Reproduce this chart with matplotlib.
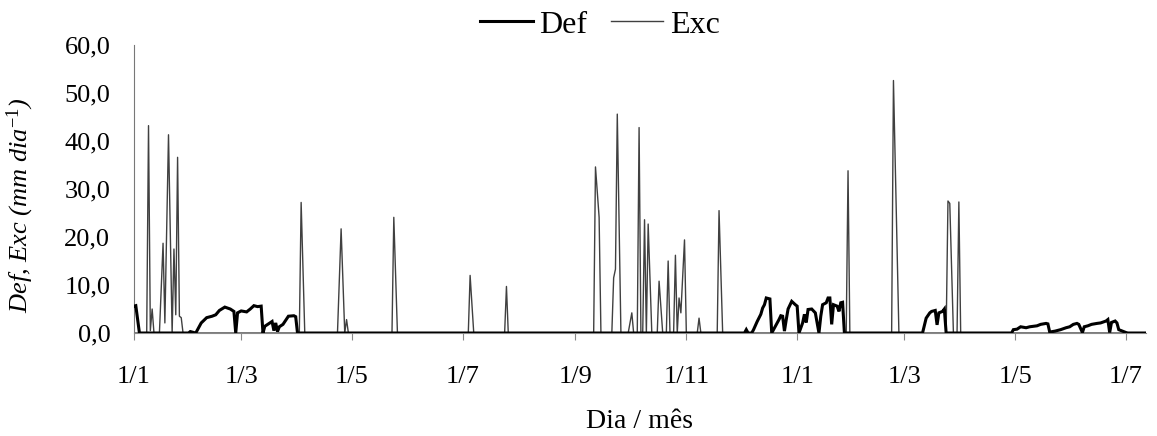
import numpy as np
import matplotlib
matplotlib.use('Agg')
import matplotlib.pyplot as plt

plt.rcParams['font.family'] = ['Liberation Serif', 'DejaVu Serif']
plt.rcParams['mathtext.fontset'] = 'custom'
plt.rcParams['mathtext.rm'] = 'Liberation Serif'
plt.rcParams['mathtext.it'] = 'Liberation Serif:italic'
plt.rcParams['mathtext.default'] = 'it'

start = np.datetime64('2010-01-01')

# deficit (Def), day counted from 1/1, mm/dia
def_days = [0, 1, 3,
            30, 31, 32, 34, 37, 40, 43, 45, 47, 50, 53, 55, 56, 57, 59, 62, 64, 66, 68, 70, 71,
            72, 76, 77, 78, 79, 80, 82, 85, 88, 89, 90,
            336, 337, 338, 340, 341, 343, 345, 346, 347, 348, 350, 351, 353, 355, 356, 357, 358,
            359, 360, 362, 364, 365, 366, 368, 369, 370, 371, 373, 375, 377, 378, 379, 381, 382,
            383, 384, 385, 387, 388, 389, 390, 391,
            434, 436, 438, 439, 441, 442, 443, 445, 446, 447,
            483, 484, 486, 488, 491, 493, 497, 499, 502, 503, 504, 507, 510, 513, 515, 517, 519,
            520, 522, 523, 525, 527, 530, 532, 535, 536, 537, 538, 540, 541, 542, 544, 546, 547, 557]
def_vals = [5.6, 5.7, 0,
            0, 0.3, 0.2, 0, 2.1, 3.2, 3.5, 3.8, 4.7, 5.4, 5.0, 4.5, 0, 4.2, 4.6, 4.4, 5.0, 5.7, 5.5, 5.6, 0,
            1.4, 2.4, 0.5, 2.1, 0.3, 1.3, 1.8, 3.5, 3.6, 3.4, 0,
            0, 0.7, 0, 0, 0.7, 2.4, 3.9, 5.2, 5.9, 7.3, 7.1, 0, 1.4, 2.8, 3.6, 3.5, 0.4,
            2.8, 5.0, 6.6, 5.9, 5.6, 0, 2.1, 3.9, 2.2, 4.9, 5.0, 4.2, 0, 3.5, 5.9, 6.3, 7.3,
            7.3, 1.8, 5.9, 5.6, 4.5, 6.3, 6.4, 0,
            0, 3.1, 4.2, 4.5, 4.7, 1.7, 4.2, 4.5, 5.0, 0,
            0, 0.7, 0.8, 1.3, 1.1, 1.3, 1.5, 1.8, 2.0, 1.9, 0.2, 0.4, 0.7, 1.1, 1.3, 1.8, 2.0,
            1.8, 0.1, 1.3, 1.5, 1.8, 2.0, 2.1, 2.5, 2.8, 0.1, 2.2, 2.5, 2.1, 0.7, 0.4, 0.1, 0, 0]

# excedente (Exc)
exc_days = [0, 7, 8, 9, 10, 11, 14, 16, 17, 19, 21, 22, 23, 24, 25, 26, 27,
            91, 92, 94, 112, 114, 116, 117, 118, 142, 143, 145, 184, 185, 187, 204, 205, 206,
            253, 254, 256, 257, 263, 264, 265, 266, 268, 272, 274, 275, 277, 278, 279, 280, 281,
            282, 283, 285, 288, 289, 291, 293, 294, 295, 297, 298, 299, 300, 301, 303, 304,
            310, 311, 312, 321, 322, 324, 392, 393, 394, 417, 418, 421,
            447, 448, 449, 451, 453, 454, 455, 557]
exc_vals = [0, 0, 43.2, 0.5, 5.0, 0, 0, 18.7, 2.1, 41.3, 0, 17.5, 3.8, 36.6, 3.5, 3.2, 0,
            0, 27.2, 0, 0, 21.7, 0, 2.8, 0, 0, 24.1, 0, 0, 12.0, 0, 0, 9.7, 0,
            0, 34.6, 24.1, 0, 0, 11.5, 13.3, 45.6, 0, 0, 4.2, 0, 0, 42.8, 0, 0, 23.6,
            0, 22.7, 0, 0, 10.8, 0, 0, 15.0, 0, 0, 16.2, 0, 7.3, 4.2, 19.4, 0,
            0, 3.1, 0, 0, 25.5, 0, 0, 33.8, 0, 0, 52.6, 0,
            0, 27.5, 27.0, 0, 0, 27.3, 0, 0]

tick_dates = ['2010-01-01', '2010-03-01', '2010-05-01', '2010-07-01', '2010-09-01',
              '2010-11-01', '2011-01-01', '2011-03-01', '2011-05-01', '2011-07-01']
tick_labels = ['1/1', '1/3', '1/5', '1/7', '1/9', '1/11', '1/1', '1/3', '1/5', '1/7']
y_ticks = [0, 10, 20, 30, 40, 50, 60]

def_x = start + np.array(def_days).astype('timedelta64[D]')
exc_x = start + np.array(exc_days).astype('timedelta64[D]')

fig = plt.figure(figsize=(11.57, 4.36), dpi=100)
ax = fig.add_axes([0.1158, 0.2362, 0.8747, 0.6606])

ax.plot(exc_x, exc_vals, color='#404040', lw=1.0, label='Exc', zorder=2)
ax.plot(def_x, def_vals, color='black', lw=2.2, label='Def', zorder=3,
        solid_joinstyle='miter')

ax.set_xlim(start, start + np.timedelta64(557, 'D'))
ax.set_ylim(0, 60)
ax.set_xticks(np.array(tick_dates, dtype='datetime64[D]'))
ax.set_xticklabels(tick_labels)
ax.set_yticks(y_ticks)
ax.set_yticklabels([f'{v:.1f}'.replace('.', ',') for v in y_ticks])

for s in ['top', 'right']:
    ax.spines[s].set_visible(False)
ax.spines['left'].set_color('#777777')
ax.spines['bottom'].set_color('#888888')
ax.tick_params(axis='x', direction='out', length=5, color='#888888', labelsize=19, pad=19)
ax.tick_params(axis='y', length=0, labelsize=19, pad=17)

fig.text(640 / 1157, 1 - 434 / 436, 'Dia / mês', fontsize=20, ha='center', va='bottom')
ax.set_ylabel('Def, Exc (mm dia$^{-1}$)', fontsize=19, fontstyle='italic')
ax.yaxis.set_label_coords(-0.097, 0.444)

handles, labels = ax.get_legend_handles_labels()
fig.legend(handles[::-1], labels[::-1], loc='center', bbox_to_anchor=(600 / 1157, 1 - 25 / 436),
           ncol=2, frameon=False, fontsize=23, handlelength=1.64, handletextpad=0.2,
           columnspacing=0.75)

fig.savefig('out.png', dpi=100)
